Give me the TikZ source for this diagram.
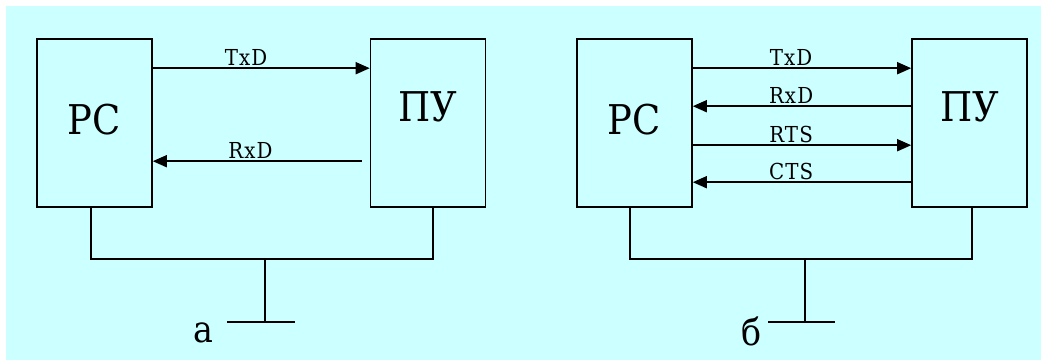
\documentclass[tikz,border=0pt]{standalone}
\usepackage{fontspec}
\setmainfont{DejaVu Serif Condensed}
\newfontfamily\sigfont[LetterSpace=5]{DejaVu Serif Condensed}
\usepackage{tikz}
\usetikzlibrary{positioning,calc}
\usetikzlibrary{arrows.meta}
\definecolor{PaleCyan}{RGB}{204,255,255}
\tikzset{
  box/.style={draw=black,line width=1.6pt,minimum width=115pt,minimum height=168pt,inner sep=0pt},
  sig/.style={draw=black,line width=1.6pt,-{Triangle[length=14pt,width=12pt]}},
  gnd/.style={draw=black,line width=1.6pt},
}
\tikzset{big/.style={font=\fontsize{41}{41}\selectfont,inner sep=0pt}, lab/.style={font=\sigfont\fontsize{22}{22}\selectfont,inner sep=1pt,above=1pt}, tag/.style={font=\fontsize{37}{37}\selectfont,inner sep=0pt}}

\begin{document}
\begin{tikzpicture}[x=1pt,y=1pt]
\fill[white] (0,0) rectangle (1041,362);\fill[PaleCyan] (6,2) rectangle (1041,356);
\useasboundingbox (0,0) rectangle (1041,362);
% a
\node[box](pcA) at (94.5,239){};\node[box](puA) at (428,239){};
\node[big](pcAt) at ([yshift=3pt]pcA.center){РС};\node[big](puAt) at ([yshift=16pt]puA.center){ПУ};
\draw[sig] ([yshift=-30pt]pcA.north east) -- node[lab,pos=0.43]{TxD} ([yshift=-30pt]puA.north west);
\draw[sig,shorten <=8pt] ([yshift=-123pt]puA.north west) -- node[lab,pos=0.55]{RxD} ([yshift=-123pt]pcA.north east);
\coordinate (gA) at (265,103);\coordinate (eA) at (265,40);
\draw[gnd] ([xshift=-3.5pt]pcA.south) |- (gA) -| ([xshift=5pt]puA.south);\draw[gnd] (gA) -- (eA);
\draw[gnd] ([xshift=-38pt]eA) -- ([xshift=30pt]eA);
\node[tag](tA) at (203,29){а};
% b
\node[box](pcB) at (634.5,239){};\node[box](puB) at (969.5,239){};
\node[big](pcBt) at ([yshift=3pt]pcB.center){РС};\node[big](puBt) at ([yshift=16pt]puB.center){ПУ};
\draw[sig] ([yshift=-30pt]pcB.north east) -- node[lab,pos=0.45]{TxD} ([yshift=-30pt]puB.north west);
\draw[sig] ([yshift=-68pt]puB.north west) -- node[lab,pos=0.55]{RxD} ([yshift=-68pt]pcB.north east);
\draw[sig] ([yshift=-107pt]pcB.north east) -- node[lab,pos=0.45]{RTS} ([yshift=-107pt]puB.north west);
\draw[sig] ([yshift=-144pt]puB.north west) -- node[lab,pos=0.55]{CTS} ([yshift=-144pt]pcB.north east);
\coordinate (gB) at (805,103);\coordinate (eB) at (805,40);
\draw[gnd] ([xshift=-4.5pt]pcB.south) |- (gB) -| ([xshift=2.5pt]puB.south);\draw[gnd] (gB) -- (eB);
\draw[gnd] ([xshift=-37pt]eB) -- ([xshift=30pt]eB);
\node[tag](tB) at (752,31){б};
\end{tikzpicture}
\end{document}
